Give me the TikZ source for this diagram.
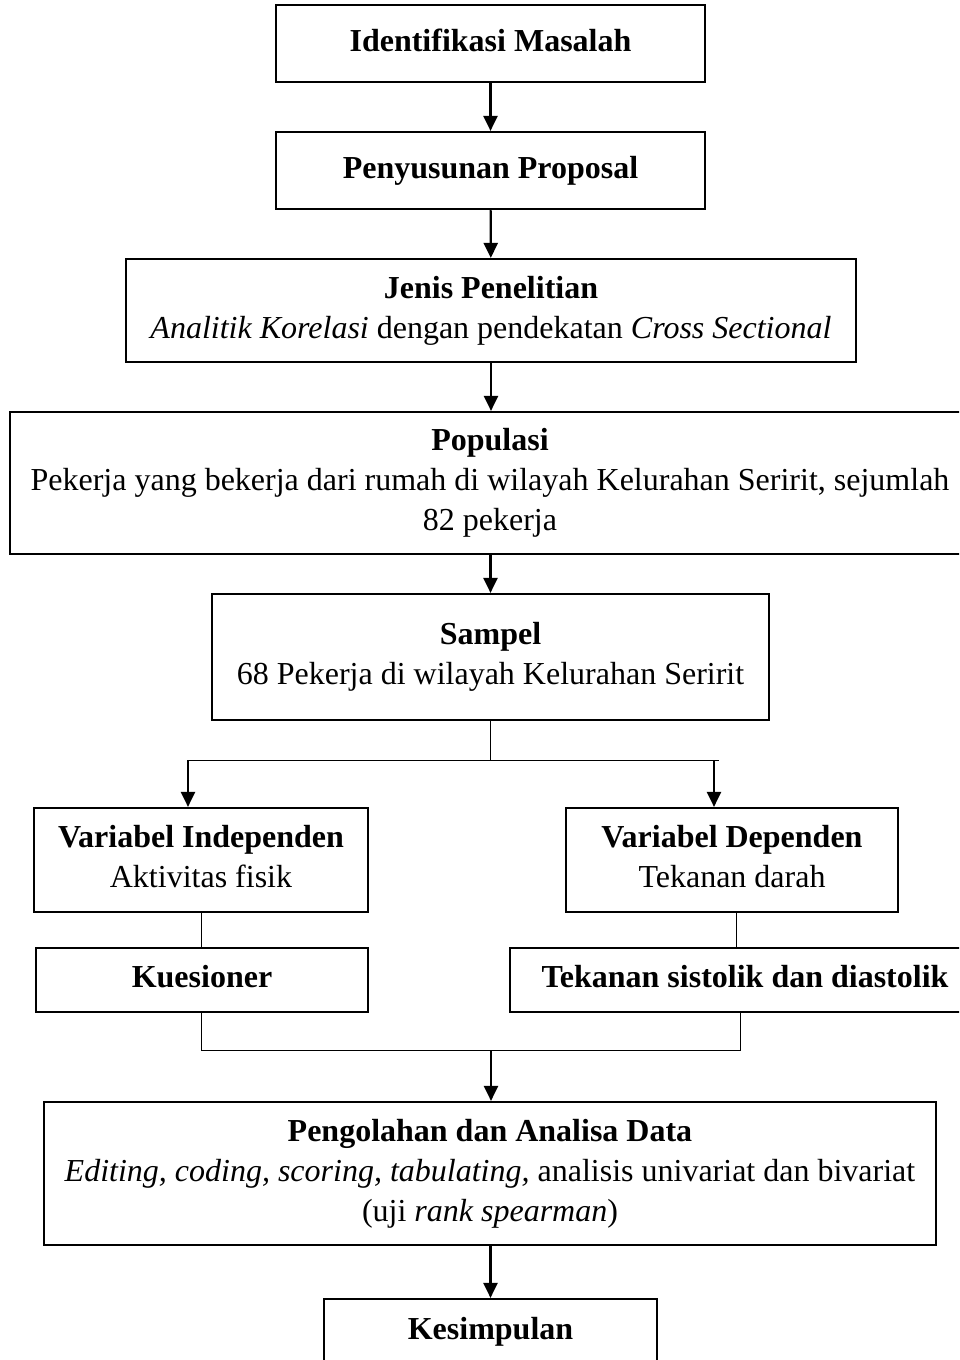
\documentclass[tikz,border=0pt]{standalone}
\usepackage{fontspec}
\setmainfont{Liberation Serif}
\usetikzlibrary{arrows.meta}
\newcommand{\firstl}{\rule{0pt}{27.3pt}}
\newcommand{\lastl}{\rule[-11.7pt]{0pt}{11.7pt}}
\tikzset{
  box/.style={draw, line width=2.2pt, inner sep=0pt, align=center,
    font=\fontsize{32}{40}\selectfont},
  arr/.style={line width=2.2pt, -{Triangle[length=15pt,width=14pt]}},
  thin/.style={line width=1pt},
}
\begin{document}
\begin{tikzpicture}[x=1pt,y=-1pt]
\useasboundingbox (0,0) rectangle (959,1360);
\clip (0,0) rectangle (959,1360);
\node[box, minimum width=429pt, minimum height=77pt] (id) at (490.5,43.5) {\firstl\textbf{Identifikasi Masalah}\lastl};
\node[box, minimum width=429pt, minimum height=77pt] (pp) at (490.5,170.5) {\firstl\textbf{Penyusunan Proposal}\lastl};
\node[box, minimum width=730pt, minimum height=103pt] (jp) at (491,310.5) {\firstl\textbf{Jenis Penelitian}\\\textit{Analitik Korelasi} dengan pendekatan \textit{Cross Sectional}\lastl};
\node[box, minimum width=960pt, minimum height=142pt] (pop) at (490,483) {\firstl\textbf{Populasi}\\Pekerja yang bekerja dari rumah di wilayah Kelurahan Seririt, sejumlah\\82 pekerja\lastl};
\node[box, minimum width=557pt, minimum height=126pt] (smp) at (490.5,657) {\firstl\textbf{Sampel}\\68 Pekerja di wilayah Kelurahan Seririt\lastl};
\node[box, minimum width=334pt, minimum height=104pt] (vi) at (201,860) {\firstl\textbf{Variabel Independen}\\Aktivitas fisik\lastl};
\node[box, minimum width=332pt, minimum height=104pt] (vd) at (732,860) {\firstl\textbf{Variabel Dependen}\\Tekanan darah\lastl};
\node[box, minimum width=332pt, minimum height=64pt] (kue) at (202,980) {\firstl\textbf{Kuesioner}\lastl};
\node[box, minimum width=470pt, minimum height=64pt] (tek) at (745,980) {\firstl\textbf{Tekanan sistolik dan diastolik}\lastl};
\node[box, minimum width=892pt, minimum height=143pt] (peng) at (490,1173.5) {\firstl\textbf{Pengolahan dan Analisa Data}\\\textit{Editing, coding, scoring, tabulating,} analisis univariat dan bivariat\\(uji \textit{rank spearman})\lastl};
\node[box, minimum width=333pt, minimum height=66pt] (kes) at (490.5,1332) {\firstl\textbf{Kesimpulan}\lastl};

\draw[arr] (id) -- (pp);
\draw[arr] (pp) -- (jp);
\draw[arr] (jp.south) -- (jp.south |- pop.north);
\draw[arr] (pop.south -| smp.north) -- (smp.north);

\coordinate (split) at (490.5,760);
\coordinate (sl) at (188,760);
\coordinate (sr) at (714,760);
\coordinate (srend) at (719,760);
\draw[thin] (smp.south) -- (split);
\draw[thin] (sl) -- (srend);
\draw[arr] (sl) -- (sl |- vi.north);
\draw[arr] (sr) -- (sr |- vd.north);

\draw[thin] (vi.south) -- (vi.south |- kue.north);
\draw[thin] (vd.south -| 736,0) -- (736,948);

\coordinate (jl) at (201,1050);
\coordinate (jr) at (740,1050);
\coordinate (jm) at (491,1050);
\draw[thin] (kue.south -| jl) -- (jl) -- (jr) -- (tek.south -| jr);
\draw[arr] (jm) -- (jm |- peng.north);
\draw[arr] (peng.south -| kes.north) -- (kes.north);
\end{tikzpicture}
\end{document}
